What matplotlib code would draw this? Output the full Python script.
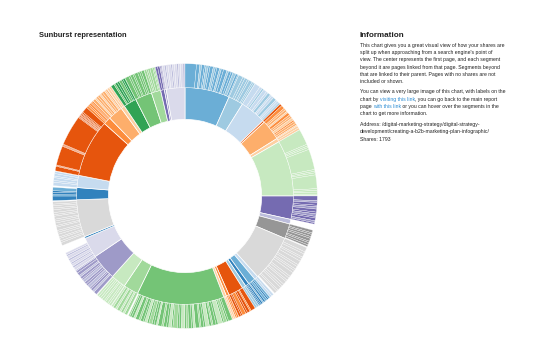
import matplotlib
matplotlib.use("Agg")
import matplotlib.pyplot as plt

plt.rcParams['font.family'] = ['Liberation Sans', 'DejaVu Sans']

# ---- inner ring (first-level pages), values in share units (degrees) ----
inner_colors = ['#6baed6', '#9ecae1', '#c6dbef', '#e6550d', '#fdae6b', '#fdd0a2',
                '#c7e9c0', '#756bb1', '#bcbddc', '#969696', '#d9d9d9', '#c6dbef',
                '#6baed6', '#3182bd', '#9ecae1', '#e6550d', '#fd8d3c', '#fdd0a2',
                '#74c476', '#a1d99b', '#c7e9c0', '#9e9ac8', '#dadaeb', '#3182bd',
                '#d9d9d9', '#3182bd', '#c6dbef', '#e6550d', '#fd8d3c', '#fdae6b',
                '#fdd0a2', '#31a354', '#74c476', '#a1d99b', '#756bb1', '#9e9ac8',
                '#dadaeb']
inner_values = [24, 8, 14, 1, 11, 2, 30, 12.5, 2.5, 8, 25, 2, 4, 2, 2, 8, 1.5, 1.5,
                47, 8, 8, 14, 11, 1, 20, 6.5, 6.5, 31, 4, 8, 2, 7, 9, 5, 2, 1, 10]

# ---- outer ring (pages linked from each first-level page) ----
outer_children = [
    [5.0, 1.5, 0.8, 1.2, 0.7, 1.0, 0.8, 1.4, 0.9, 0.7, 1.2, 0.8, 1.0, 1.5, 0.8, 1.1,
     0.9, 1.3, 0.9, 0.4],
    [2.0, 1.0, 1.2, 0.8, 1.5, 0.7, 0.7],
    [2.5, 1.2, 0.8, 1.5, 0.9, 1.3, 0.7, 1.1, 1.4, 0.8, 1.0, 0.7],
    [1.0],
    [1.5, 0.8, 1.0, 0.7, 1.2, 0.9, 0.8, 1.1, 0.7, 1.0, 0.8, 0.5],
    [1.0, 0.9],
    [7.0, 0.8, 0.7, 0.9, 9.0, 0.8, 0.7, 0.9, 6.0, 0.8, 0.7, 0.9, 0.6],
    [2.0, 0.8, 1.2, 0.7, 1.0, 1.3, 0.8, 1.1, 0.7, 1.2, 0.9, 0.6],
    [],
    [1.2, 0.7, 1.0, 0.8, 1.3, 0.7, 1.0, 0.8],
    [2.0, 1.0, 1.5, 0.8, 1.2, 1.8, 0.9, 1.3, 0.8, 1.1, 2.0, 0.9, 1.2, 0.8, 1.5, 1.0,
     0.9, 1.6, 0.8, 1.2],
    [1.0, 0.9],
    [0.9, 0.7, 1.0, 0.8, 0.5],
    [0.8, 0.6, 0.5],
    [1.0, 0.9],
    [2.0, 0.6, 1.2, 0.8, 1.6, 0.7, 1.0],
    [0.8, 0.6],
    [0.8, 0.6],
    [1.8, 0.8, 1.2, 0.7, 2.0, 0.9, 1.3, 0.7, 1.0, 1.6, 0.8, 1.2, 0.7, 1.8, 0.9, 0.8,
     1.3, 1.0, 0.7, 1.5, 0.9, 0.8, 1.9, 0.7, 1.2, 0.9, 1.3, 0.8, 1.7, 0.7, 1.0, 0.9,
     1.4, 0.8, 1.1, 0.7, 1.2, 0.8, 1.5, 0.9, 1.0, 0.8, 0.6],
    [1.2, 0.8, 1.0, 0.7, 1.3, 0.8, 1.1, 0.9],
    [1.0, 0.8, 1.2, 0.7, 1.1, 0.9, 1.0, 0.9],
    [1.5, 0.8, 1.1, 0.7, 1.3, 0.9, 1.0, 1.2, 0.7, 1.1, 0.8, 1.3, 1.0, 0.5],
    [1.2, 0.8, 1.0, 0.7, 1.1, 0.8, 1.3, 0.7, 0.9],
    [],
    [1.4, 0.8, 1.1, 0.7, 1.2, 0.9, 0.8, 1.5, 0.7, 1.1, 0.9, 0.8, 1.3, 0.7, 0.9, 1.2,
     0.8, 1.0, 0.7, 1.0],
    [2.0, 0.6, 1.0, 0.7, 1.5],
    [1.5, 0.8, 1.2, 0.7, 1.1, 0.9],
    [2.0, 0.3, 0.3, 8.5, 0.3, 0.4, 0.3, 13.3, 0.4, 0.3, 0.5, 0.3, 0.5, 0.4, 0.6, 2.6],
    [1.0, 0.7, 0.9, 0.6, 0.7],
    [1.2, 0.7, 0.9, 1.0, 0.7, 0.9, 1.1, 0.7, 0.6],
    [1.0, 0.9],
    [1.5, 0.7, 1.0, 0.9, 1.2, 0.7, 0.9],
    [1.8, 0.8, 1.2, 0.7, 1.5, 0.9, 0.8, 1.2],
    [1.0, 0.7, 0.9, 1.2, 0.6, 0.5],
    [1.0, 0.9],
    [0.5, 0.4],
    [1.0, 0.7, 0.9, 1.2, 0.7, 0.9, 1.0, 0.7, 0.9, 1.1, 0.8],
]

# colour palettes the children of some parents alternate through (style only)
child_palettes = {
    0: ['#6baed6', '#6baed6', '#9ecae1'],
    2: ['#c6dbef', '#c6dbef', '#9ecae1'],
    4: ['#fd8d3c', '#fdae6b', '#fdae6b', '#fdd0a2'],
    7: ['#756bb1', '#9e9ac8', '#756bb1'],
    12: ['#6baed6', '#3182bd'],
    15: ['#e6550d', '#fd8d3c', '#e6550d'],
    18: ['#74c476', '#74c476', '#a1d99b', '#74c476', '#c7e9c0'],
    19: ['#a1d99b', '#c7e9c0'],
    21: ['#9e9ac8', '#bcbddc', '#9e9ac8'],
    22: ['#dadaeb', '#bcbddc'],
    25: ['#3182bd', '#6baed6', '#3182bd'],
    29: ['#fdae6b', '#fdd0a2', '#fdae6b'],
    31: ['#31a354', '#74c476', '#31a354'],
    36: ['#dadaeb', '#bcbddc', '#dadaeb'],
}

title_text = "Sunburst representation"
info_title = "Information"
para1 = ["This chart gives you a great visual view of how your shares are",
         "split up when approaching from a search engine's point of",
         "view. The center represents the first page, and each segment",
         "beyond it are pages linked from that page. Segments beyond",
         "that are linked to their parent. Pages with no shares are not",
         "included or shown."]
para2 = [[("You can view a very large image of this chart, with labels on the", 0)],
         [("chart by ", 0), ("visiting this link", 1), (", you can go back to the main report", 0)],
         [("page ", 0), ("with this link", 1), (" or you can hover over the segments in the", 0)],
         [("chart to get more information.", 0)]]
para3 = ["Address: /digital-marketing-strategy/digital-strategy-",
         "development/creating-a-b2b-marketing-plan-infographic/",
         "Shares: 1793"]

# ---------------- figure ----------------
W, H = 550, 343
fig = plt.figure(figsize=(W / 100, H / 100), dpi=100)
fig.patch.set_facecolor('white')

cx, cy, R = 185, 196, 133
ax = fig.add_axes([(cx - R) / W, (H - cy - R) / H, 2 * R / W, 2 * R / H])
ax.set_aspect('equal')
ax.axis('off')

r_outer = 1.0
r_mid = 109 / 133
r_hole = 77 / 133

# inner ring
ax.pie(inner_values, colors=inner_colors, radius=r_mid, startangle=90,
       counterclock=False,
       wedgeprops=dict(width=r_mid - r_hole, edgecolor='white', linewidth=0.5))

# outer ring: children of each parent followed by an empty remainder
outer_vals, outer_cols, outer_vis = [], [], []
for i, (pv, kids) in enumerate(zip(inner_values, outer_children)):
    pal = child_palettes.get(i, [inner_colors[i]])
    for j, k in enumerate(kids):
        outer_vals.append(k)
        outer_cols.append(pal[j % len(pal)])
        outer_vis.append(True)
    rem = pv - sum(kids)
    if rem > 1e-9:
        outer_vals.append(rem)
        outer_cols.append('white')
        outer_vis.append(False)

wedges, _ = ax.pie(outer_vals, colors=outer_cols, radius=r_outer, startangle=90,
                   counterclock=False,
                   wedgeprops=dict(width=r_outer - r_mid, edgecolor='white',
                                   linewidth=0.2))
for w, vis in zip(wedges, outer_vis):
    if not vis:
        w.set_visible(False)
ax.set_xlim(-1.005, 1.005)
ax.set_ylim(-1.005, 1.005)

# ---------------- texts ----------------
def fy(y):
    return 1 - y / H

def fx(x):
    return x / W

txt_col = '#222222'
link_col = '#2b8cd3'
fs = 3.7

fig.text(fx(39), fy(35.5), title_text, fontsize=5.4, fontweight='bold',
         color=txt_col, va='center', ha='left')
fig.text(fx(360), fy(35.5), info_title, fontsize=5.9, fontweight='bold',
         color=txt_col, va='center', ha='left')

y1 = [45, 52.3, 59.7, 67, 74.3, 81.7]
for y, line in zip(y1, para1):
    fig.text(fx(360), fy(y), line, fontsize=fs, color=txt_col, va='center', ha='left')

renderer = fig.canvas.get_renderer()
y2 = [91.7, 99.1, 106.5, 113.9]
for y, segs in zip(y2, para2):
    x = 360
    for s, is_link in segs:
        t = fig.text(fx(x), fy(y), s, fontsize=fs, color=link_col if is_link else txt_col,
                     va='center', ha='left')
        bb = t.get_window_extent(renderer=renderer)
        x += bb.width

y3 = [124.5, 131.9, 139.3]
for y, line in zip(y3, para3):
    fig.text(fx(360), fy(y), line, fontsize=fs, color=txt_col, va='center', ha='left')

fig.savefig('out.png', dpi=100, facecolor='white')
